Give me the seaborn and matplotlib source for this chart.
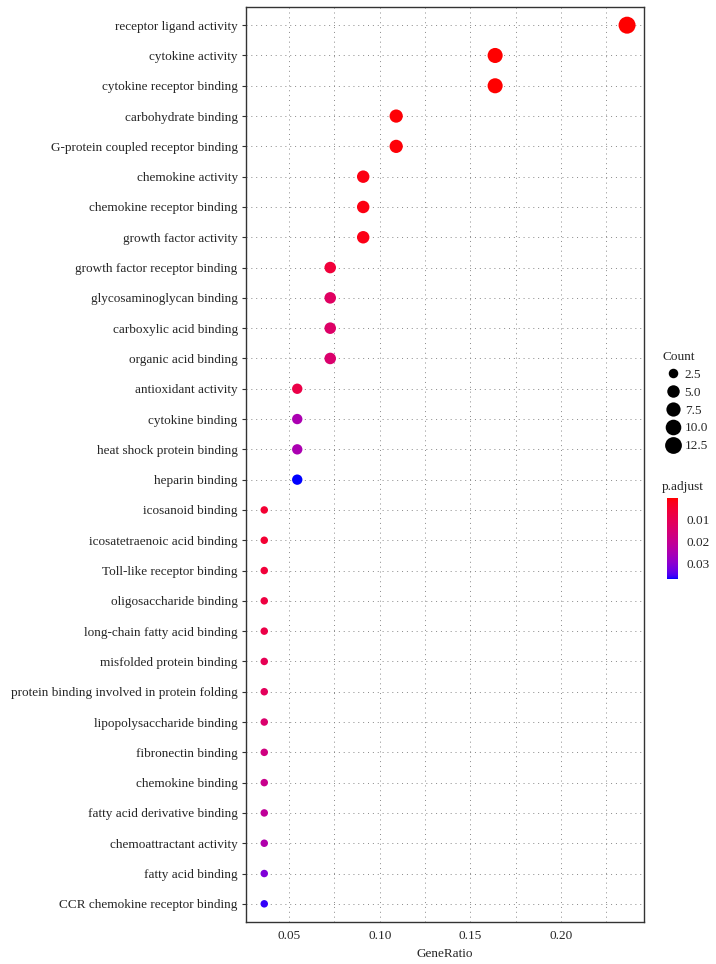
import numpy as np
import pandas as pd
import matplotlib
matplotlib.use("Agg")
import matplotlib.pyplot as plt
from matplotlib.colors import LinearSegmentedColormap, Normalize
from matplotlib.lines import Line2D
import matplotlib.cm as cm
import seaborn as sns

terms = [
    "receptor ligand activity", "cytokine activity", "cytokine receptor binding",
    "carbohydrate binding", "G-protein coupled receptor binding", "chemokine activity",
    "chemokine receptor binding", "growth factor activity", "growth factor receptor binding",
    "glycosaminoglycan binding", "carboxylic acid binding", "organic acid binding",
    "antioxidant activity", "cytokine binding", "heat shock protein binding",
    "heparin binding", "icosanoid binding", "icosatetraenoic acid binding",
    "Toll-like receptor binding", "oligosaccharide binding", "long-chain fatty acid binding",
    "misfolded protein binding", "protein binding involved in protein folding",
    "lipopolysaccharide binding", "fibronectin binding", "chemokine binding",
    "fatty acid derivative binding", "chemoattractant activity", "fatty acid binding",
    "CCR chemokine receptor binding",
]
counts = [13, 9, 9, 6, 6, 5, 5, 5, 4, 4, 4, 4, 3, 3, 3, 3,
          2, 2, 2, 2, 2, 2, 2, 2, 2, 2, 2, 2, 2, 2]
total_genes = 55
p_adjust = [0.0000005, 0.0000008, 0.000001, 0.0004, 0.0005, 0.0012, 0.0013, 0.0015,
            0.006, 0.012, 0.013, 0.014, 0.008, 0.025, 0.025, 0.037,
            0.005, 0.005, 0.006, 0.007, 0.008, 0.010, 0.011, 0.014, 0.017,
            0.019, 0.021, 0.024, 0.031, 0.036]
count_legend = [2.5, 5.0, 7.5, 10.0, 12.5]
cbar_ticks = [0.01, 0.02, 0.03]

df = pd.DataFrame({"Description": terms, "Count": counts,
                   "GeneRatio": np.array(counts) / total_genes, "p.adjust": p_adjust})

# ---- Lab-interpolated red->blue gradient (like ggplot) ----
def _lin(c):
    c = np.asarray(c, float)
    return np.where(c <= 0.04045, c / 12.92, ((c + 0.055) / 1.055) ** 2.4)
def _delin(c):
    c = np.clip(c, 0, 1)
    return np.where(c <= 0.0031308, 12.92 * c, 1.055 * c ** (1 / 2.4) - 0.055)
M = np.array([[0.4124, 0.3576, 0.1805], [0.2126, 0.7152, 0.0722], [0.0193, 0.1192, 0.9505]])
Mi = np.linalg.inv(M)
WP = np.array([0.95047, 1.0, 1.08883])
def rgb2lab(rgb):
    xyz = M @ _lin(rgb) / WP
    f = np.where(xyz > 0.008856, np.cbrt(xyz), 7.787 * xyz + 16 / 116)
    return np.array([116 * f[1] - 16, 500 * (f[0] - f[1]), 200 * (f[1] - f[2])])
def lab2rgb(lab):
    fy = (lab[0] + 16) / 116
    fx = fy + lab[1] / 500
    fz = fy - lab[2] / 200
    f = np.array([fx, fy, fz])
    xyz = np.where(f ** 3 > 0.008856, f ** 3, (f - 16 / 116) / 7.787) * WP
    return _delin(Mi @ xyz)
lab_r, lab_b = rgb2lab([1, 0, 0]), rgb2lab([0, 0, 1])
cols = [np.clip(lab2rgb(lab_r + (lab_b - lab_r) * t), 0, 1) for t in np.linspace(0, 1, 64)]
cmap = LinearSegmentedColormap.from_list("rb", cols)
norm = Normalize(vmin=min(p_adjust), vmax=max(p_adjust))

def diam_px(c):
    lo, hi = min(counts), max(counts)
    return 7.5 + 9.5 * np.sqrt(max(c - lo, 0) / (hi - lo))
def area_pt(c):
    return (diam_px(c) * 0.72) ** 2

W, H = 716, 964
fig = plt.figure(figsize=(W / 100, H / 100), dpi=100)
sns.set_style("white")
plt.rcParams["font.family"] = ["Liberation Serif", "DejaVu Serif"]

ax = fig.add_axes([246 / W, 1 - 922 / H, (644 - 246) / W, (922 - 7) / H])
sizes = {c: area_pt(c) for c in sorted(set(counts))}
sns.scatterplot(data=df, x="GeneRatio", y="Description", hue="p.adjust", size="Count",
                palette=cmap, hue_norm=norm, sizes=sizes, linewidth=0, legend=False,
                ax=ax, zorder=3)
ax.set_xlim(0.0263, 0.2457)
ax.set_ylim(len(terms) - 1 + 0.6, -0.6)
ax.set_xticks([0.05, 0.10, 0.15, 0.20])
ax.set_xticklabels(["0.05", "0.10", "0.15", "0.20"])
ax.set_xticks([0.075, 0.125, 0.175, 0.225], minor=True)
ax.grid(True, which="both", axis="x", color="#888888", linestyle=(0, (1, 4)), linewidth=0.7)
ax.grid(True, which="major", axis="y", color="#888888", linestyle=(0, (1, 4)), linewidth=0.7)
ax.set_axisbelow(True)
for s in ax.spines.values():
    s.set_color("#333333")
    s.set_linewidth(1.0)
ax.tick_params(axis="y", length=3, width=0.8, color="#333333", labelsize=9.5, pad=3, left=True)
ax.tick_params(axis="x", length=0, labelsize=9.5, pad=6, which="both")
ax.set_ylabel("")
ax.set_xlabel("GeneRatio", fontsize=9.5, labelpad=4)

# Count legend
handles = [Line2D([], [], marker="o", linestyle="", color="black", markeredgewidth=0,
                  markersize=diam_px(v) * 0.72) for v in count_legend]
fig.legend(handles, [f"{v:.1f}" for v in count_legend], title="Count", loc="upper left",
           bbox_to_anchor=(653 / W, 1 - 342 / H), frameon=False, fontsize=9.5,
           title_fontsize=9.5, labelspacing=0.42, handletextpad=0.1, handlelength=1.6,
           borderpad=0.2, alignment="left")

# colorbar
cax = fig.add_axes([667 / W, 1 - 579 / H, 11 / W, 81 / H])
cb = fig.colorbar(cm.ScalarMappable(norm=norm, cmap=cmap), cax=cax)
cb.outline.set_visible(False)
cb.set_ticks(cbar_ticks)
cb.set_ticklabels([f"{t:.2f}" for t in cbar_ticks])
cax.invert_yaxis()
cax.tick_params(axis="y", length=3, color="white", width=0.6, direction="in", labelsize=9.5, pad=6)
fig.text(662 / W, 1 - 487 / H, "p.adjust", fontsize=9.5, va="center", ha="left")

fig.savefig("out.png", dpi=100)
